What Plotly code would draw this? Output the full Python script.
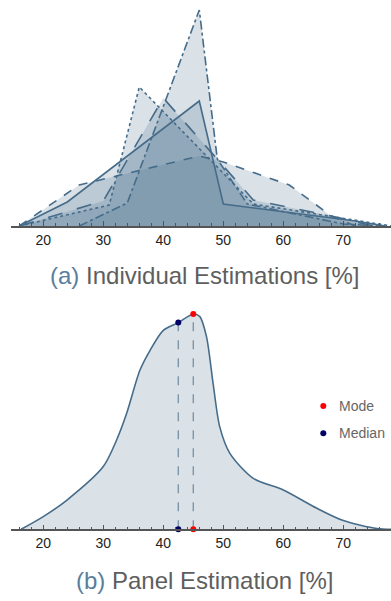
import plotly.graph_objects as go

# ---------- data ----------
# (a) individual estimations: x in %, heights in arbitrary density units
solid_x = [16, 24, 46, 50, 72, 77]
solid_y = [0, 24, 125, 22, 5, 0]

longdash_x = [16, 30, 40, 55, 68, 75]
longdash_y = [0, 25, 128, 26, 10, 0]

dash_x = [16, 26, 46, 50, 61, 68, 72]
dash_y = [0, 41, 70, 64, 41, 10, 0]

dot_x = [16, 31, 36, 55, 78]
dot_y = [0, 21, 139, 22, 0]

dashdot_x = [26, 34, 46, 49, 54, 70, 76]
dashdot_y = [0, 23, 216, 67, 22, 2, 0]

# (b) panel estimation (smoothed density)
panel_x = [16.3, 20, 23.9, 30, 32.2, 33.9, 36.1, 37.8, 40, 42.5, 45, 46.1, 47.2,
           48.3, 49.4, 51.1, 55, 60, 65.6, 70, 75.6, 78]
panel_y = [0, 12.7, 29, 62.7, 89, 116, 159, 179, 199, 206.7, 215.3, 212.7, 192.7,
           146, 102.7, 76, 51, 39.3, 21, 8.7, 0.7, 0]

median_x = 42.5
median_y = 206.7
mode_x = 45
mode_y = 215.3

tick_vals = [20, 30, 40, 50, 60, 70]
legend_labels = ["Mode", "Median"]
legend_colors = ["#ff0000", "#000066"]

caption_a = ("(a)", "Individual Estimations [%]")
caption_b = ("(b)", "Panel Estimation [%]")

# ---------- styling ----------
W, H = 391, 601
LINE = "rgb(70,108,138)"
FILL = "rgba(70,108,138,0.2)"
FONT = "Liberation Sans"

fig = go.Figure()

series = [
    (dash_x, dash_y, "dash"),
    (dot_x, dot_y, "dot"),
    (dashdot_x, dashdot_y, "dashdot"),
    (longdash_x, longdash_y, "longdash"),
    (solid_x, solid_y, "solid"),
]
for xs, ys, d in series:
    fig.add_trace(go.Scatter(x=xs, y=ys, mode="lines", fill="tozeroy",
                             fillcolor=FILL, line=dict(color=LINE, width=1.6, dash=d),
                             xaxis="x", yaxis="y", showlegend=False, hoverinfo="skip"))

# bottom panel
fig.add_trace(go.Scatter(x=panel_x, y=panel_y, mode="lines", fill="tozeroy",
                         fillcolor=FILL, line=dict(color=LINE, width=1.6, shape="spline", smoothing=0.8),
                         xaxis="x2", yaxis="y2", showlegend=False, hoverinfo="skip"))
for vx, vy in [(median_x, median_y), (mode_x, mode_y)]:
    fig.add_trace(go.Scatter(x=[vx, vx], y=[0, vy], mode="lines",
                             line=dict(color="rgb(125,150,170)", width=1.4, dash="dash"),
                             xaxis="x2", yaxis="y2", showlegend=False, hoverinfo="skip"))
fig.add_trace(go.Scatter(x=[median_x, median_x], y=[0, median_y], mode="markers",
                         marker=dict(color=legend_colors[1], size=6),
                         xaxis="x2", yaxis="y2", showlegend=False, hoverinfo="skip", cliponaxis=False))
fig.add_trace(go.Scatter(x=[mode_x, mode_x], y=[0, mode_y], mode="markers",
                         marker=dict(color=legend_colors[0], size=6),
                         xaxis="x2", yaxis="y2", showlegend=False, hoverinfo="skip", cliponaxis=False))

xr = [14.62, 77.95]
xdom = [11 / W, 1]
axis_common = dict(range=xr, domain=xdom, showgrid=False, zeroline=False,
                   showline=True, linecolor="#555555", linewidth=1.5,
                   ticks="inside", ticklen=5, tickcolor="#555555", tickwidth=1,
                   tickvals=tick_vals, ticktext=[str(t) for t in tick_vals],
                   tickfont=dict(family=FONT, size=14, color="#222222"),
                   minor=dict(dtick=2, tick0=0, ticks="inside", ticklen=3,
                              tickcolor="#555555", tickwidth=1, showgrid=False),
                   fixedrange=True)

top_base = 226
bot_base = 529.3
bot_top = 300

fig.update_layout(
    width=W, height=H,
    margin=dict(l=0, r=0, t=0, b=0),
    paper_bgcolor="white", plot_bgcolor="white",
    xaxis=dict(anchor="y", **axis_common),
    yaxis=dict(domain=[(H - top_base) / H, 1], range=[0, top_base], visible=False),
    xaxis2=dict(anchor="y2", **axis_common),
    yaxis2=dict(domain=[(H - bot_base) / H, (H - bot_top) / H],
                range=[0, bot_base - bot_top], visible=False),
    showlegend=False,
)

# captions
for (lab, txt), ycen in [(caption_a, 275), (caption_b, 580)]:
    fig.add_annotation(
        text=f'<span style="color:#5a7e9c">{lab}</span> {txt}',
        x=204.5 / W, y=(H - ycen) / H, xref="paper", yref="paper",
        xanchor="center", yanchor="middle", showarrow=False,
        font=dict(family=FONT, size=24, color="#5e5e5e"))

# legend (manual)
for i, (lab, col) in enumerate(zip(legend_labels, legend_colors)):
    yc = 406 + i * 27.3
    r = 3
    fig.add_shape(type="circle", xref="paper", yref="paper",
                  x0=(323.3 - r) / W, x1=(323.3 + r) / W,
                  y0=(H - yc - r) / H, y1=(H - yc + r) / H,
                  fillcolor=col, line=dict(width=0))
    fig.add_annotation(text=lab, x=337 / W, y=(H - yc) / H, xref="paper", yref="paper",
                       xanchor="left", yanchor="middle", showarrow=False,
                       font=dict(family=FONT, size=14, color="#666666"))

fig.write_html("out.html")
